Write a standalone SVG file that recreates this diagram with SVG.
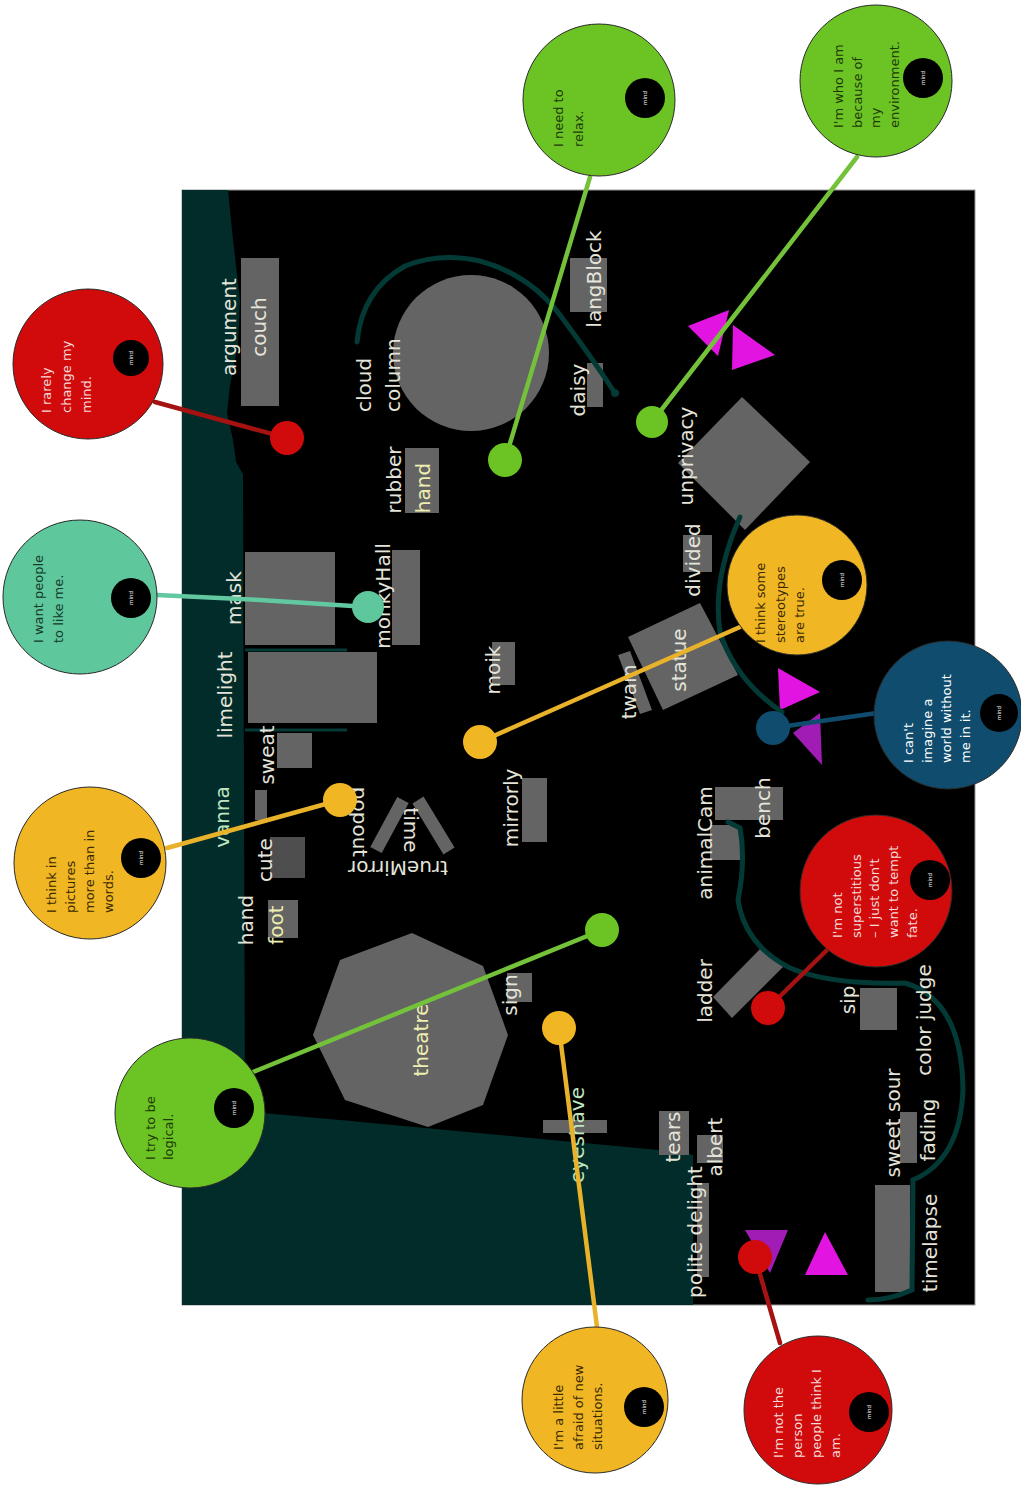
<svg xmlns="http://www.w3.org/2000/svg" width="1021" height="1499" viewBox="0 0 1021 1499">
<style>
.lbl{font-family:"DejaVu Sans","Liberation Sans",sans-serif;font-size:20px;fill:#e4e4da;text-anchor:middle}
.ylw{fill:#eeeeb0}
.grn{fill:#bfe6c0}
.ct{font-family:"DejaVu Sans","Liberation Sans",sans-serif;font-size:13px}
.mind{font-family:"DejaVu Sans",sans-serif;font-size:5.5px;fill:#ffffff;text-anchor:middle}
.blk{fill:#646464}
.mg{fill:#e214e2}
.pu{fill:#a01cb4}
.arc{fill:none;stroke:#033a36;stroke-width:5;stroke-linecap:round}
.con{fill:none;stroke-width:4.5;stroke-linecap:round}
.ring{stroke:#2a2a2a;stroke-width:1}
</style>
<rect width="1021" height="1499" fill="#ffffff"/>
<g id="board">
<rect x="182" y="190" width="793" height="1115" fill="#000000" stroke="#9a9a9a" stroke-width="1"/>
<path d="M182,190 L228,190 L233,240 L240,300 L238,345 L230,385 L227,413 L233,440 L236,462 L243,474 L245,1112 L262,1113 L340,1120 L520,1137 L680,1152 L693,1155 L693,1305 L182,1305 Z" fill="#022c29"/>
<line x1="245" y1="650" x2="347" y2="650" stroke="#033a36" stroke-width="3"/>
<line x1="245" y1="730" x2="347" y2="730" stroke="#033a36" stroke-width="3"/>
</g>
<g id="shapes">
<rect class="blk" x="241" y="258" width="38" height="148"/>
<circle class="blk" cx="471" cy="353" r="78"/>
<rect class="blk" x="570" y="258" width="37" height="54"/>
<rect class="blk" x="587" y="363" width="16" height="44"/>
<rect class="blk" x="405" y="448" width="34" height="65"/>
<polygon class="blk" points="742,397 810,462 745,530 678,463"/>
<rect class="blk" x="683" y="535" width="29" height="37"/>
<rect class="blk" x="245" y="552" width="90" height="93"/>
<rect class="blk" x="392" y="550" width="28" height="95"/>
<rect class="blk" x="248" y="652" width="129" height="71"/>
<rect class="blk" x="492" y="642" width="23" height="43"/>
<polygon class="blk" points="628,637 700,603 738,675 663,710"/>
<polygon class="blk" points="618,655 630,651 652,710 640,714"/>
<rect class="blk" x="277" y="733" width="35" height="35"/>
<rect class="blk" x="255" y="790" width="12" height="30"/>
<rect class="blk" x="522" y="778" width="25" height="64"/>
<rect x="270" y="837" width="35" height="41" fill="#4e4e4e"/>
<rect class="blk" x="268" y="900" width="30" height="38"/>
<line x1="376" y1="850" x2="403" y2="800" stroke="#646464" stroke-width="13"/>
<line x1="418" y1="800" x2="449" y2="851" stroke="#646464" stroke-width="13"/>
<polygon class="blk" points="412,933 483,966 508,1035 483,1105 428,1127 345,1100 313,1035 340,960"/>
<rect class="blk" x="507" y="973" width="25" height="29"/>
<rect class="blk" x="543" y="1120" width="64" height="13"/>
<rect class="blk" x="659" y="1111" width="30" height="44"/>
<rect class="blk" x="697" y="1135" width="26" height="28"/>
<rect class="blk" x="697" y="1183" width="12" height="94"/>
<rect class="blk" x="715" y="787" width="68" height="33"/>
<rect class="blk" x="710" y="825" width="30" height="35"/>
<polygon class="blk" points="713,997 762,947 785,965 732,1018"/>
<rect class="blk" x="860" y="988" width="37" height="42"/>
<rect class="blk" x="900" y="1112" width="17" height="51"/>
<rect class="blk" x="875" y="1185" width="35" height="107"/>
<polygon class="mg" points="688,326 729,310 718,356"/>
<polygon class="mg" points="733,325 775,355 732,370"/>
<polygon class="mg" points="778,668 820,692 780,710"/>
<polygon class="pu" points="793,733 820,713 822,765"/>
<polygon class="pu" points="745,1230 788,1230 770,1273"/>
<polygon class="mg" points="825,1232 848,1275 805,1275"/>
<path class="arc" d="M357,342 Q362,290 405,266 Q440,252 480,261 Q530,275 560,315 Q590,355 615,393"/>
<circle cx="615" cy="393" r="4" fill="#033a36"/>
<path class="arc" d="M740,517 Q712,580 720,632 Q735,680 782,712"/>
<path class="arc" d="M728,822 L740,828 Q746,860 738,900 Q745,945 790,968 Q830,985 905,983 Q962,1000 963,1090 Q960,1160 913,1180 L912,1290 Q890,1300 868,1300"/>
</g>
<g id="labels">
<text class="lbl" transform="translate(236,327) rotate(-90)">argument</text>
<text class="lbl" transform="translate(266,327) rotate(-90)">couch</text>
<text class="lbl" text-anchor="start" style="text-anchor:start" transform="translate(371,412) rotate(-90)">cloud</text>
<text class="lbl" style="text-anchor:start" transform="translate(400,412) rotate(-90)">column</text>
<text class="lbl" transform="translate(601,279) rotate(-90)">langBlock</text>
<text class="lbl" transform="translate(585,390) rotate(-90)">daisy</text>
<text class="lbl" transform="translate(401,480) rotate(-90)">rubber</text>
<text class="lbl ylw" transform="translate(430,488) rotate(-90)">hand</text>
<text class="lbl" transform="translate(693,456) rotate(-90)">unprivacy</text>
<text class="lbl" transform="translate(700,560) rotate(-90)">divided</text>
<text class="lbl" transform="translate(241,598) rotate(-90)">mask</text>
<text class="lbl" transform="translate(390,596) rotate(-90)">monkyHall</text>
<text class="lbl" transform="translate(232,695) rotate(-90)">limelight</text>
<text class="lbl" transform="translate(500,670) rotate(-90)">moik</text>
<text class="lbl" transform="translate(686,660) rotate(-90)">statue</text>
<text class="lbl" transform="translate(636,692) rotate(-90)">twain</text>
<text class="lbl" transform="translate(274,755) rotate(-90)">sweat</text>
<text class="lbl grn" transform="translate(229,817) rotate(-90)">vanna</text>
<text class="lbl" transform="translate(518,808) rotate(-90)">mirrorly</text>
<text class="lbl" transform="translate(353,822) rotate(90)">popout</text>
<text class="lbl" transform="translate(404,830) rotate(90)">time</text>
<text class="lbl" transform="translate(398,861) rotate(180)">trueMirror</text>
<text class="lbl" transform="translate(272,860) rotate(-90)">cute</text>
<text class="lbl" transform="translate(253,920) rotate(-90)">hand</text>
<text class="lbl ylw" transform="translate(283,925) rotate(-90)">foot</text>
<text class="lbl" transform="translate(712,843) rotate(-90)">animalCam</text>
<text class="lbl" transform="translate(770,808) rotate(-90)">bench</text>
<text class="lbl" transform="translate(712,991) rotate(-90)">ladder</text>
<text class="lbl" transform="translate(517,995) rotate(-90)">sign</text>
<text class="lbl" transform="translate(855,1000) rotate(-90)">sip</text>
<text class="lbl" transform="translate(931,1020) rotate(-90)">color judge</text>
<text class="lbl ylw" transform="translate(428,1040) rotate(-90)">theatre</text>
<text class="lbl grn" transform="translate(584,1135) rotate(-90)">eyeshave</text>
<text class="lbl" transform="translate(680,1137) rotate(-90)">tears</text>
<text class="lbl" transform="translate(722,1147) rotate(-90)">albert</text>
<text class="lbl" transform="translate(900,1123) rotate(-90)">sweet sour</text>
<text class="lbl" transform="translate(935,1130) rotate(-90)">fading</text>
<text class="lbl" transform="translate(702,1232) rotate(-90)">polite delight</text>
<text class="lbl" transform="translate(937,1243) rotate(-90)">timelapse</text>
</g>
<g id="connectors">
<line class="con" stroke="#a51212" x1="155" y1="402" x2="287" y2="438"/>
<line class="con" stroke="#74c23a" x1="590" y1="177" x2="505" y2="460"/>
<line class="con" stroke="#74c23a" x1="857" y1="157" x2="652" y2="422"/>
<polyline class="con" stroke="#62c8a0" points="157,595 260,600 368,607"/>
<line class="con" stroke="#e8b22a" x1="167" y1="848" x2="340" y2="800"/>
<line class="con" stroke="#74c23a" x1="253" y1="1072" x2="602" y2="930"/>
<line class="con" stroke="#e8b22a" x1="597" y1="1327" x2="559" y2="1028"/>
<line class="con" stroke="#a51212" x1="780" y1="1343" x2="755" y2="1257"/>
<line class="con" stroke="#a51212" x1="827" y1="950" x2="768" y2="1008"/>
<line class="con" stroke="#e8b22a" x1="740" y1="627" x2="480" y2="742"/>
<line class="con" stroke="#0f4c6e" x1="877" y1="713" x2="773" y2="728"/>
</g>
<g id="dots">
<circle cx="287" cy="438" r="17" fill="#d10b0b"/>
<circle cx="505" cy="460" r="17" fill="#6cc424"/>
<circle cx="652" cy="422" r="16" fill="#6cc424"/>
<circle cx="368" cy="607" r="16" fill="#5fc79c"/>
<circle cx="340" cy="800" r="17" fill="#f0b624"/>
<circle cx="602" cy="930" r="17" fill="#6cc424"/>
<circle cx="559" cy="1028" r="17" fill="#f0b624"/>
<circle cx="755" cy="1257" r="17" fill="#d10b0b"/>
<circle cx="768" cy="1008" r="17" fill="#d10b0b"/>
<circle cx="480" cy="742" r="17" fill="#f0b624"/>
<circle cx="773" cy="728" r="17" fill="#0f4c6e"/>
</g>
<g id="n-rarely">
<circle class="ring" cx="88" cy="364" r="75" fill="#d10b0b"/>
<circle cx="131" cy="358" r="18" fill="#000"/>
<text class="mind" transform="translate(133,358) rotate(-90)">mind</text>
<text class="ct" fill="#f6dada" font-size="13.5" transform="translate(51,413) rotate(-90)"><tspan x="0" y="0">I rarely</tspan><tspan x="0" y="20">change my</tspan><tspan x="0" y="40">mind.</tspan></text>
</g>
<g id="n-relax">
<circle class="ring" cx="599" cy="100" r="76" fill="#6cc424"/>
<circle cx="645" cy="98" r="20" fill="#000"/>
<text class="mind" transform="translate(647,98) rotate(-90)">mind</text>
<text class="ct" fill="#1d3a06" font-size="14" transform="translate(563,147) rotate(-90)"><tspan x="0" y="0">I need to</tspan><tspan x="0" y="20">relax.</tspan></text>
</g>
<g id="n-environment">
<circle class="ring" cx="876" cy="81" r="76" fill="#6cc424"/>
<circle cx="923" cy="78" r="20" fill="#000"/>
<text class="mind" transform="translate(925,78) rotate(-90)">mind</text>
<text class="ct" fill="#1d3a06" font-size="12.5" transform="translate(843,128) rotate(-90)"><tspan x="0" y="0">I'm who I am</tspan><tspan x="0" y="18.5">because of</tspan><tspan x="0" y="37">my</tspan><tspan x="0" y="55.5">environment.</tspan></text>
</g>
<g id="n-like">
<circle class="ring" cx="80" cy="597" r="77" fill="#5fc79c"/>
<circle cx="131" cy="598" r="20" fill="#000"/>
<text class="mind" transform="translate(133,598) rotate(-90)">mind</text>
<text class="ct" fill="#143a28" font-size="12.5" transform="translate(43,643) rotate(-90)"><tspan x="0" y="0">I want people</tspan><tspan x="0" y="20">to like me.</tspan></text>
</g>
<g id="n-pictures">
<circle class="ring" cx="90" cy="863" r="76" fill="#f0b624"/>
<circle cx="141" cy="858" r="20" fill="#000"/>
<text class="mind" transform="translate(143,858) rotate(-90)">mind</text>
<text class="ct" fill="#3a2a00" font-size="13" transform="translate(56,913) rotate(-90)"><tspan x="0" y="0">I think in</tspan><tspan x="0" y="19">pictures</tspan><tspan x="0" y="38">more than in</tspan><tspan x="0" y="57">words.</tspan></text>
</g>
<g id="n-logical">
<circle class="ring" cx="190" cy="1113" r="75" fill="#6cc424"/>
<circle cx="234" cy="1108" r="20" fill="#000"/>
<text class="mind" transform="translate(236,1108) rotate(-90)">mind</text>
<text class="ct" fill="#1d3a06" font-size="13" transform="translate(155,1160) rotate(-90)"><tspan x="0" y="0">I try to be</tspan><tspan x="0" y="18">logical.</tspan></text>
</g>
<g id="n-afraid">
<circle class="ring" cx="595" cy="1400" r="73" fill="#f0b624"/>
<circle cx="644" cy="1407" r="20" fill="#000"/>
<text class="mind" transform="translate(646,1407) rotate(-90)">mind</text>
<text class="ct" fill="#3a2a00" font-size="12.5" transform="translate(563,1450) rotate(-90)"><tspan x="0" y="0">I'm a little</tspan><tspan x="0" y="19.5">afraid of new</tspan><tspan x="0" y="39">situations.</tspan></text>
</g>
<g id="n-person">
<circle class="ring" cx="818" cy="1410" r="74" fill="#d10b0b"/>
<circle cx="869" cy="1412" r="20" fill="#000"/>
<text class="mind" transform="translate(871,1412) rotate(-90)">mind</text>
<text class="ct" fill="#f6dada" font-size="12.6" transform="translate(783,1458) rotate(-90)"><tspan x="0" y="0">I'm not the</tspan><tspan x="0" y="19">person</tspan><tspan x="0" y="38">people think I</tspan><tspan x="0" y="57">am.</tspan></text>
</g>
<g id="n-superstitious">
<circle class="ring" cx="876" cy="891" r="76" fill="#d10b0b"/>
<circle cx="930" cy="880" r="20" fill="#000"/>
<text class="mind" transform="translate(932,880) rotate(-90)">mind</text>
<text class="ct" fill="#f6dada" font-size="13" transform="translate(842,938) rotate(-90)"><tspan x="0" y="0">I'm not</tspan><tspan x="0" y="18.7">superstitious</tspan><tspan x="0" y="37.4">– I just don't</tspan><tspan x="0" y="56.1">want to tempt</tspan><tspan x="0" y="74.8">fate.</tspan></text>
</g>
<g id="n-stereotypes">
<circle class="ring" cx="797" cy="585" r="70" fill="#f0b624"/>
<circle cx="842" cy="580" r="20" fill="#000"/>
<text class="mind" transform="translate(844,580) rotate(-90)">mind</text>
<text class="ct" fill="#3a2a00" font-size="14" transform="translate(765,643) rotate(-90)"><tspan x="0" y="0">I think some</tspan><tspan x="0" y="19.5">stereotypes</tspan><tspan x="0" y="39">are true.</tspan></text>
</g>
<g id="n-world">
<circle class="ring" cx="948" cy="715" r="74" fill="#0f4c6e"/>
<circle cx="999" cy="713" r="19" fill="#000"/>
<text class="mind" transform="translate(1001,713) rotate(-90)">mind</text>
<text class="ct" fill="#ffffff" font-size="13.3" transform="translate(913,763) rotate(-90)"><tspan x="0" y="0">I can't</tspan><tspan x="0" y="19">imagine a</tspan><tspan x="0" y="38">world without</tspan><tspan x="0" y="57">me in it.</tspan></text>
</g>
</svg>
